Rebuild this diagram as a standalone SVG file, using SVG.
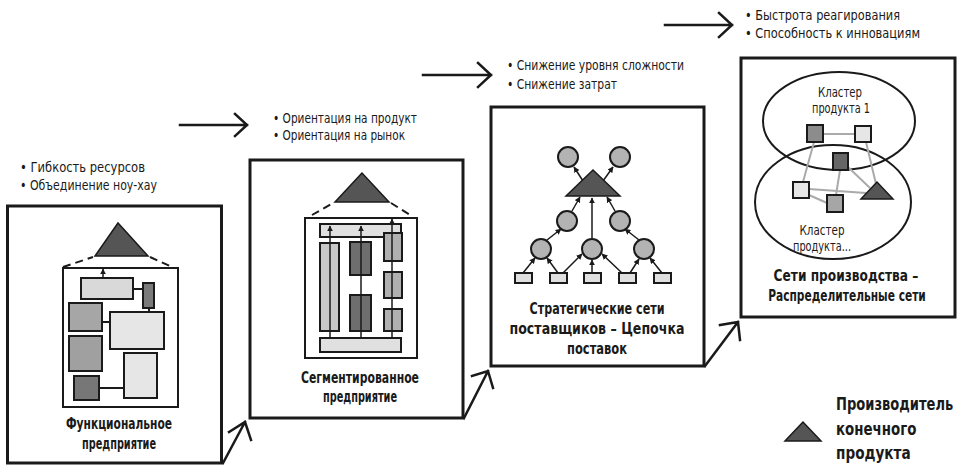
<svg xmlns="http://www.w3.org/2000/svg" width="960" height="467" viewBox="0 0 960 467">
<defs>
<marker id="ah" viewBox="0 0 10 10" refX="9" refY="5" markerWidth="4" markerHeight="4" orient="auto-start-reverse"><path d="M0,0 L10,5 L0,10 z" fill="#1a1a1a"/></marker>
<style>
.panel{fill:#fff;stroke:#1a1a1a;stroke-width:3}
.inner{fill:#fff;stroke:#1a1a1a;stroke-width:2}
.box{stroke:#1a1a1a;stroke-width:2}
.tri{fill:#555;stroke:#1a1a1a;stroke-width:1.5}
.dash{stroke:#1a1a1a;stroke-width:2;stroke-dasharray:8 5;fill:none}
.ln{stroke:#1a1a1a;stroke-width:2;fill:none}
.arr{stroke:#1a1a1a;stroke-width:1.5;fill:none;marker-end:url(#ah)}
.gl{stroke:#aaa;stroke-width:2;fill:none}
.big{stroke:#1a1a1a;stroke-width:2.5;fill:none;stroke-linecap:square}
.c{fill:#b3b3b3;stroke:#1a1a1a;stroke-width:2}
.t{font-family:"DejaVu Sans Condensed","Liberation Sans",sans-serif;font-size:14px;fill:#1a1a1a}
.b{font-family:"DejaVu Sans Condensed","Liberation Sans",sans-serif;font-size:15px;font-weight:bold;fill:#1a1a1a;text-anchor:middle}
.lg{font-family:"DejaVu Sans Condensed","Liberation Sans",sans-serif;font-size:18px;font-weight:bold;fill:#1a1a1a}
.m{font-family:"DejaVu Sans Condensed","Liberation Sans",sans-serif;font-size:14px;fill:#1a1a1a;text-anchor:middle}
</style>
</defs>

<g id="connectors">
<path class="big" d="M180,125 H247 M235,114 L247,125 L235,136"/>
<path class="big" d="M423,75 H491 M478,63 L491,75 L478,87"/>
<path class="big" d="M665,25 H732 M719,13 L732,25 L719,37"/>
<path class="big" d="M223,463 L245,422 M229,432 L245,422 L251,440"/>
<path class="big" d="M464,418 L488,371 M472,376 L488,371 L493,388"/>
<path class="big" d="M705,366 L738,322 M720,325 L738,322 L740,340"/>
</g>

<g id="bullets">
<text class="t" x="20" y="172" textLength="125" lengthAdjust="spacingAndGlyphs">•  Гибкость ресурсов</text>
<text class="t" x="20" y="190" textLength="137" lengthAdjust="spacingAndGlyphs">•  Объединение ноу-хау</text>
<text class="t" x="273" y="123" textLength="144" lengthAdjust="spacingAndGlyphs">• Ориентация на продукт</text>
<text class="t" x="273" y="140" textLength="132" lengthAdjust="spacingAndGlyphs">• Ориентация на рынок</text>
<text class="t" x="507" y="70" textLength="177" lengthAdjust="spacingAndGlyphs">• Снижение уровня сложности</text>
<text class="t" x="507" y="89" textLength="110" lengthAdjust="spacingAndGlyphs">• Снижение затрат</text>
<text class="t" x="745" y="20" textLength="155" lengthAdjust="spacingAndGlyphs">•  Быстрота реагирования</text>
<text class="t" x="745" y="38" textLength="175" lengthAdjust="spacingAndGlyphs">•  Способность к инновациям</text>
</g>

<g id="panel1">
<rect class="panel" x="7.5" y="206" width="214" height="257"/>
<polygon class="tri" points="118,223 95,256 148,256"/>
<path class="dash" d="M63,267 L93,257 M150,257 L172,267"/>
<rect class="inner" x="63" y="268" width="115" height="139"/>
<line class="arr" x1="103" y1="278" x2="103" y2="269"/>
<path class="ln" d="M133,289 H143 M149,308 V312 M102,322 H110 M99,388 H124"/>
<rect class="box" x="81" y="278" width="52" height="21" fill="#d9d9d9"/>
<rect class="box" x="143" y="283" width="11" height="25" fill="#7a7a7a"/>
<rect class="box" x="69" y="303" width="33" height="28" fill="#a6a6a6"/>
<rect class="box" x="110" y="312" width="54" height="37" fill="#e6e6e6"/>
<rect class="box" x="69" y="336" width="33" height="35" fill="#a0a0a0"/>
<rect class="box" x="124" y="353" width="33" height="45" fill="#e6e6e6"/>
<rect class="box" x="74" y="376" width="25" height="24" fill="#777"/>
<text class="b" x="119" y="429" textLength="106" lengthAdjust="spacingAndGlyphs">Функциональное</text>
<text class="b" x="119" y="449" textLength="74" lengthAdjust="spacingAndGlyphs">предприятие</text>
</g>

<g id="panel2">
<rect class="panel" x="250" y="160" width="213" height="258"/>
<polygon class="tri" points="362,173 335,202 389,202"/>
<path class="dash" d="M312,215 L333,203 M391,203 L410,215"/>
<rect class="inner" x="305" y="218" width="112" height="140"/>
<rect class="box" x="320" y="224" width="81" height="13" fill="#e0e0e0"/>
<rect class="box" x="320" y="243" width="19" height="88" fill="#c8c8c8"/>
<rect class="box" x="350" y="242" width="21" height="33" fill="#6e6e6e"/>
<rect class="box" x="350" y="295" width="21" height="36" fill="#6e6e6e"/>
<rect class="box" x="384" y="233" width="18" height="28" fill="#b0b0b0"/>
<rect class="box" x="384" y="272" width="18" height="26" fill="#b0b0b0"/>
<rect class="box" x="384" y="309" width="18" height="22" fill="#b0b0b0"/>
<rect class="box" x="320" y="338" width="81" height="14" fill="#e0e0e0"/>
<line class="arr" x1="330" y1="338" x2="330" y2="226"/>
<line class="arr" x1="361" y1="338" x2="361" y2="226"/>
<line class="arr" x1="392" y1="338" x2="392" y2="219"/>
<text class="b" x="360" y="383" textLength="118" lengthAdjust="spacingAndGlyphs">Сегментированное</text>
<text class="b" x="360" y="402" textLength="74" lengthAdjust="spacingAndGlyphs">предприятие</text>
</g>

<g id="panel3">
<rect class="panel" x="491" y="107" width="213" height="259"/>
<g class="arr">
<line x1="523" y1="273" x2="535" y2="258"/>
<line x1="558" y1="273" x2="547" y2="258"/>
<line x1="563" y1="273" x2="582" y2="254"/>
<line x1="592" y1="273" x2="592" y2="260"/>
<line x1="622" y1="273" x2="602" y2="254"/>
<line x1="630" y1="273" x2="639" y2="259"/>
<line x1="662" y1="273" x2="650" y2="258"/>
<line x1="547" y1="240" x2="561" y2="229"/>
<line x1="639" y1="240" x2="625" y2="229"/>
<line x1="592" y1="239" x2="592" y2="198"/>
<line x1="572" y1="211" x2="580" y2="197"/>
<line x1="615" y1="211" x2="607" y2="197"/>
<line x1="583" y1="181" x2="574" y2="167"/>
<line x1="603" y1="181" x2="613" y2="167"/>
</g>
<polygon class="tri" points="593,170 566,196 620,196"/>
<circle class="c" cx="568" cy="157" r="10"/>
<circle class="c" cx="620" cy="157" r="10"/>
<circle class="c" cx="567" cy="221" r="10"/>
<circle class="c" cx="620" cy="221" r="10"/>
<circle class="c" cx="541" cy="249" r="10"/>
<circle class="c" cx="592" cy="249" r="10"/>
<circle class="c" cx="644" cy="249" r="10"/>
<rect class="box" x="515" y="273" width="17" height="10" fill="#e0e0e0"/>
<rect class="box" x="550" y="273" width="17" height="10" fill="#e0e0e0"/>
<rect class="box" x="584" y="273" width="17" height="10" fill="#e0e0e0"/>
<rect class="box" x="619" y="273" width="17" height="10" fill="#e0e0e0"/>
<rect class="box" x="654" y="273" width="17" height="10" fill="#e0e0e0"/>
<text class="b" x="597" y="314" textLength="135" lengthAdjust="spacingAndGlyphs">Стратегические сети</text>
<text class="b" x="597" y="334" textLength="175" lengthAdjust="spacingAndGlyphs">поставщиков – Цепочка</text>
<text class="b" x="597" y="354" textLength="60" lengthAdjust="spacingAndGlyphs">поставок</text>
</g>

<g id="panel4">
<rect class="panel" x="741" y="58" width="214" height="259"/>
<ellipse class="ln" cx="839" cy="121" rx="76" ry="49"/>
<ellipse class="ln" cx="833" cy="202" rx="78" ry="57"/>
<path class="gl" d="M823,134 H855 M814,142 L803,182 M866,142 L876,184 M847,166 L870,188 M840,170 L836,195 M809,189 L866,193 M809,195 L827,203"/>
<rect class="box" x="807" y="125" width="16" height="17" fill="#8c8c8c"/>
<rect class="box" x="855" y="126" width="16" height="16" fill="#e6e6e6"/>
<rect class="box" x="833" y="153" width="15" height="17" fill="#666"/>
<rect class="box" x="793" y="182" width="16" height="16" fill="#e6e6e6"/>
<rect class="box" x="827" y="195" width="16" height="17" fill="#a6a6a6"/>
<polygon class="tri" points="877,182 861,199 893,199"/>
<text class="m" x="840" y="97" textLength="44" lengthAdjust="spacingAndGlyphs">Кластер</text>
<text class="m" x="841" y="113" textLength="58" lengthAdjust="spacingAndGlyphs">продукта 1</text>
<text class="m" x="822" y="235" textLength="45" lengthAdjust="spacingAndGlyphs">Кластер</text>
<text class="m" x="822" y="251" textLength="58" lengthAdjust="spacingAndGlyphs">продукта...</text>
<text class="b" transform="translate(846,281) scale(0.8,1)" textLength="181" lengthAdjust="spacingAndGlyphs">Сети производства –</text>
<text class="b" transform="translate(847,301) scale(0.8,1)" textLength="197" lengthAdjust="spacingAndGlyphs">Распределительные сети</text>
</g>

<g id="legend">
<polygon class="tri" points="803,422 785,441 821,441"/>
<text class="lg" transform="translate(836,410) scale(0.82,1)" textLength="143" lengthAdjust="spacingAndGlyphs">Производитель</text>
<text class="lg" transform="translate(836,435) scale(0.82,1)" textLength="98" lengthAdjust="spacingAndGlyphs">конечного</text>
<text class="lg" transform="translate(836,459) scale(0.82,1)" textLength="91" lengthAdjust="spacingAndGlyphs">продукта</text>
</g>
</svg>
